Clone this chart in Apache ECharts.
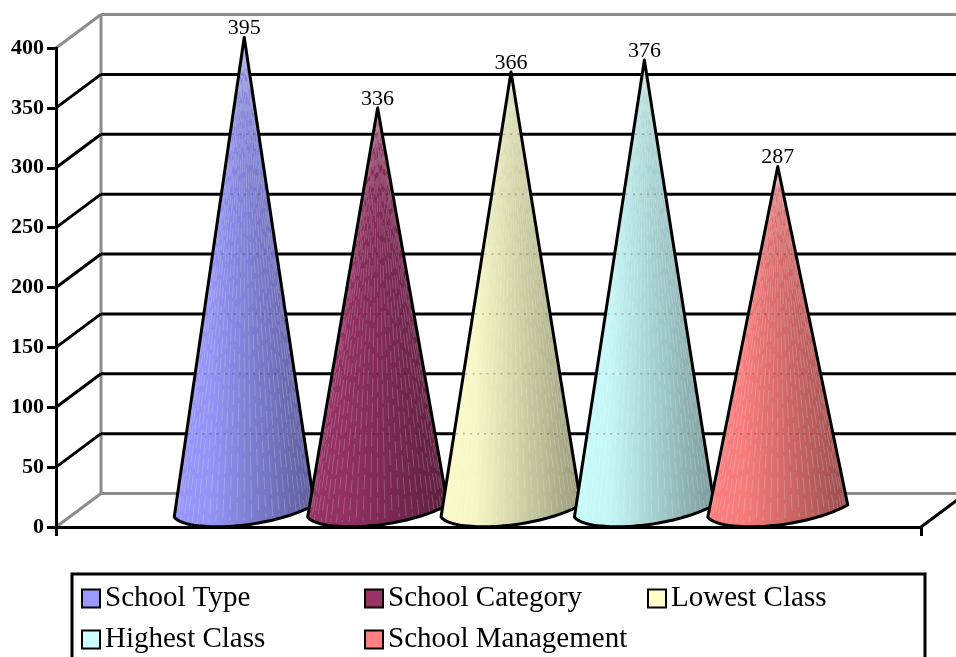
<!DOCTYPE html>
<html>
<head>
<meta charset="utf-8">
<style>html,body{margin:0;padding:0;background:#fff}#c{width:956px;height:657px}</style>
<script src="https://cdn.jsdelivr.net/npm/echarts@6/dist/echarts.min.js"></script>
</head>
<body>
<div id="c"></div>
<script>
var categories = ['School Type', 'School Category', 'Lowest Class', 'Highest Class', 'School Management'];
var values = [395, 336, 366, 376, 287];
var colors = ['#9999FF', '#993366', '#FFFFCC', '#CCFFFF', '#FF8080'];
var yTicks = [0, 50, 100, 150, 200, 250, 300, 350, 400];

var FONT = '"Liberation Serif", serif';
var DEPTH_X = 45, DEPTH_Y = 33.5;
var PITCH = 0.1542, HALF = 0.0809;

function shade(hex, f) {
  var n = parseInt(hex.slice(1), 16);
  var c = [n >> 16, (n >> 8) & 255, n & 255].map(function (v) { return Math.round(v * f); });
  return 'rgb(' + c.join(',') + ')';
}

function renderWall(params, api) {
  var v = api.value(0);
  var p = api.coord([0, v]);
  var size = api.size([1, 0]);
  var isEdge = v === yTicks[0] || v === yTicks[yTicks.length - 1];
  var col = isEdge ? '#8c8c8c' : '#000';
  var w = 3;
  var x0 = p[0] - size[0] / 2, y0 = p[1];
  var bx = x0 + DEPTH_X, by = y0 - DEPTH_Y;
  var kids = [
    { type: 'line', shape: { x1: x0, y1: y0, x2: bx, y2: by }, style: { stroke: col, lineWidth: w, fill: null } },
    { type: 'line', shape: { x1: bx, y1: by, x2: bx + size[0], y2: by }, style: { stroke: col, lineWidth: w, fill: null } }
  ];
  if (v === yTicks[0]) {
    var top = api.coord([0, yTicks[yTicks.length - 1]]);
    kids.push({ type: 'line', shape: { x1: bx, y1: by, x2: bx, y2: top[1] - DEPTH_Y }, style: { stroke: '#8c8c8c', lineWidth: 3, fill: null } });
    kids.push({ type: 'line', shape: { x1: x0 + size[0], y1: y0, x2: bx + size[0], y2: by }, style: { stroke: '#000', lineWidth: 3, fill: null } });
  }
  return { type: 'group', children: kids };
}

function bez(p0, p1, p2, p3, t) {
  var u = 1 - t;
  return [
    u * u * u * p0[0] + 3 * u * u * t * p1[0] + 3 * u * t * t * p2[0] + t * t * t * p3[0],
    u * u * u * p0[1] + 3 * u * u * t * p1[1] + 3 * u * t * t * p2[1] + t * t * t * p3[1]
  ];
}

function coneRenderer(idx) {
  return function (params, api) {
    var val = api.value(1);
    var base = api.coord([0, 0]);
    var tip = api.coord([0, val]);
    var band = api.size([1, 0])[0];
    var cx = base[0] + DEPTH_X / 2 + band * PITCH * (idx - 2);
    var half = band * HALF;
    var apex = [cx, tip[1] - DEPTH_Y / 2];
    var L = [cx - half, base[1] - 10];
    var R = [cx + half, base[1] - 22];
    var c1 = [cx - half * 0.85, base[1] + 5];
    var c2 = [cx + half * 0.3, base[1] + 4];
    var pts = [apex, L];
    for (var i = 1; i <= 48; i++) pts.push(bez(L, c1, c2, R, i / 48));
    var col = colors[idx];
    var kids = [{
      type: 'polygon',
      shape: { points: pts },
      style: {
        fill: {
          type: 'linear', x: 0, y: 0, x2: 1, y2: 0,
          colorStops: [
            { offset: 0, color: shade(col, 0.98) },
            { offset: 0.25, color: shade(col, 0.97) },
            { offset: 0.6, color: shade(col, 0.8) },
            { offset: 1, color: shade(col, 0.6) }
          ]
        },
        stroke: null
      }
    }];
    // pale streaks, bunching towards the silhouette like the facets of a round cone
    var n = 30;
    for (var k = 1; k < n; k++) {
      var u = (1 - Math.cos(Math.PI * k / n)) / 2;
      var bx = L[0] + (R[0] - L[0]) * u;
      var by = base[1] - 4 - 14 * u * u;
      kids.push({
        type: 'line',
        shape: { x1: bx, y1: by, x2: apex[0], y2: apex[1] },
        style: {
          stroke: 'rgba(255,255,255,0.2)', lineWidth: 1,
          lineDash: [12 + (k * 5) % 9, 4 + (k * 3) % 4], lineDashOffset: (k * 11) % 19, fill: null
        }
      });
    }
    // back-wall gridlines faintly showing through
    yTicks.forEach(function (t) {
      if (t === 0) return;
      var gy = api.coord([0, t])[1] - DEPTH_Y;
      var f = (gy - apex[1]) / (L[1] - apex[1]);
      if (f <= 0.02 || f >= 1) return;
      kids.push({
        type: 'line',
        shape: { x1: cx - half * f + 2, y1: gy, x2: cx + half * f - 2, y2: gy },
        style: { stroke: 'rgba(0,0,0,0.25)', lineWidth: 1.5, lineDash: [2, 5], fill: null }
      });
    });
    kids.push({
      type: 'polygon',
      shape: { points: pts },
      style: { fill: null, stroke: '#000', lineWidth: 3, lineJoin: 'round' }
    });
    kids.push({
      type: 'text',
      style: {
        x: apex[0], y: apex[1] + 2, text: String(val), align: 'center', verticalAlign: 'bottom',
        fill: '#000', font: '22px ' + FONT
      }
    });
    return { type: 'group', children: kids };
  };
}

var series = [{
  type: 'custom', name: 'walls', silent: true, z: 1, clip: false,
  data: yTicks.map(function (t) { return [t]; }),
  encode: { y: 0 },
  renderItem: renderWall
}];
categories.forEach(function (name, i) {
  series.push({
    type: 'custom', name: name, z: 3 + i, clip: false,
    itemStyle: { color: colors[i], borderColor: '#000', borderWidth: 2.5 },
    data: [[0, values[i]]],
    encode: { x: 0, y: 1 },
    renderItem: coneRenderer(i)
  });
});

var chart = echarts.init(document.getElementById('c'), null, { renderer: 'canvas' });
chart.setOption({
  animation: false,
  backgroundColor: '#fff',
  grid: { left: 56, right: 35, top: 48, bottom: 130 },
  xAxis: {
    type: 'category', data: [''],
    axisLine: { lineStyle: { color: '#000', width: 3 } },
    axisTick: { show: true, length: 9, lineStyle: { color: '#000', width: 3 } },
    axisLabel: { show: false }, splitLine: { show: false }, z: 10
  },
  yAxis: {
    type: 'value', min: 0, max: 400, interval: 50,
    axisLine: { show: true, lineStyle: { color: '#000', width: 3 } },
    axisTick: { show: true, length: 9, lineStyle: { color: '#000', width: 3 } },
    axisLabel: { margin: 12, color: '#000', fontFamily: FONT, fontWeight: 'bold', fontSize: 22 },
    splitLine: { show: false }, z: 10
  },
  legend: {
    data: categories,
    left: 72, top: 574, width: 853,
    orient: 'horizontal', align: 'left',
    padding: [10, 7, 30, 9],
    itemGap: 12, itemWidth: 18, itemHeight: 18,
    borderColor: '#000', borderWidth: 3, backgroundColor: '#fff',
    selectedMode: false,
    icon: 'rect',
    textStyle: { color: '#000', fontFamily: FONT, fontSize: 29, width: 247, height: 26, lineHeight: 26, overflow: 'none' }
  },
  series: series
});
</script>
</body>
</html>
